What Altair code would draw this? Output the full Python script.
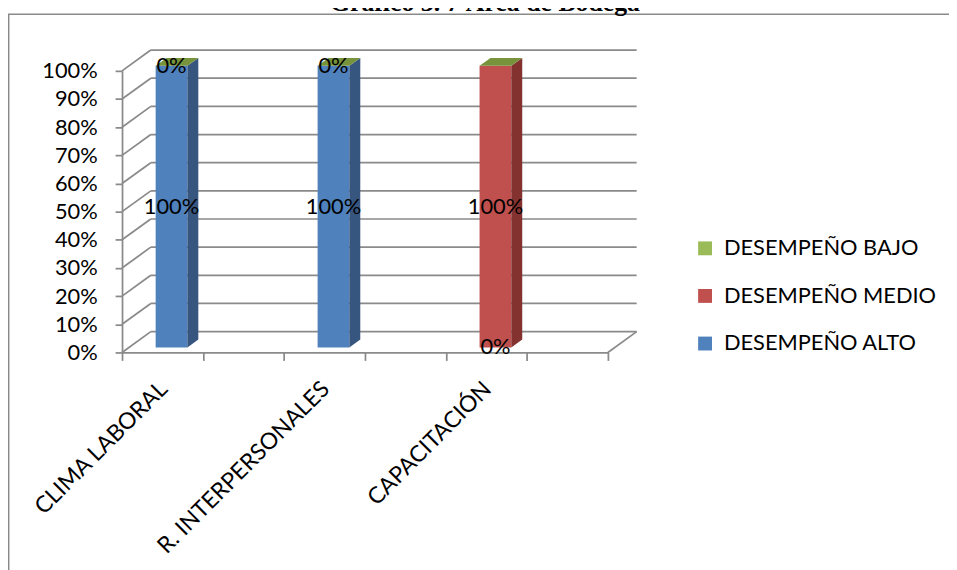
import altair as alt
import pandas as pd

# ---------------- data ----------------
categories = ["CLIMA LABORAL", "R. INTERPERSONALES", "CAPACITACIÓN"]
series = ["DESEMPEÑO ALTO", "DESEMPEÑO MEDIO", "DESEMPEÑO BAJO"]   # stacking order (bottom -> top)
alto = [100, 100, 0]
medio = [0, 0, 100]
bajo = [0, 0, 0]
y_ticks = [0, 10, 20, 30, 40, 50, 60, 70, 80, 90, 100]
labelled_series = ["DESEMPEÑO ALTO", "DESEMPEÑO MEDIO"]
legend_order = ["DESEMPEÑO BAJO", "DESEMPEÑO MEDIO", "DESEMPEÑO ALTO"]
title_text = "Gráfico 3. 7 Área de Bodega"

# ---------------- style ----------------
front_col = {"DESEMPEÑO ALTO": "#4f81bd", "DESEMPEÑO MEDIO": "#c0504d", "DESEMPEÑO BAJO": "#9bbb59"}
side_col = {"DESEMPEÑO ALTO": "#36557f", "DESEMPEÑO MEDIO": "#84322f", "DESEMPEÑO BAJO": "#6b8636"}
top_col = {"DESEMPEÑO ALTO": "#5b86c0", "DESEMPEÑO MEDIO": "#c65c59", "DESEMPEÑO BAJO": "#77933c"}
GRID = "#8a8a8a"
FONT = "Lato"
FS = 22

W, H = 490, 284                     # front wall: 3 categories x 0..100 %
PXX, PXY = W / 3.0, H / 100.0
DX = 29 / PXX                       # depth of the 3-D box in data units
DY = 21 / PXY
D0, D1 = 0.24, 0.62                 # depth of bar front / back faces (fraction)
BAR_L, BAR_W = 0.165, 0.196         # bar left position and width inside a category

xs = alt.Scale(domain=[0, 3], nice=False, zero=False)
ys = alt.Scale(domain=[0, 100], nice=False, zero=False)

label_expr = " : ".join(
    f"datum.value == {i + 0.5} ? '{c}'" for i, c in enumerate(categories)
) + " : ''"
x_axis = alt.Axis(values=[0, 0.5, 1, 1.5, 2, 2.5, 3], labelExpr=label_expr, title=None,
                  grid=False, tickSize=8, tickColor=GRID, tickWidth=1.75,
                  domainColor=GRID, domainWidth=1.75, labelAngle=315, labelAlign="right",
                  labelBaseline="middle", labelOffset=-40, labelPadding=25,
                  labelFont=FONT, labelFontSize=23, labelColor="black", labelOverlap=False,
                  labelLimit=1000, labelBound=False, labelFlush=False)
y_axis = alt.Axis(values=y_ticks, labelExpr="datum.value + '%'", title=None, grid=False,
                  tickSize=7, tickColor=GRID, tickWidth=1.75, domainColor=GRID, domainWidth=1.75,
                  labelPadding=18, labelFont=FONT, labelFontSize=FS, labelColor="black",
                  labelOverlap=False, labelLimit=1000)


def X(f):
    return alt.X(f, type="quantitative", scale=xs, axis=x_axis)


def Y(f):
    return alt.Y(f, type="quantitative", scale=ys, axis=y_axis)


# ---------------- derived tables ----------------
vals = {"DESEMPEÑO ALTO": alto, "DESEMPEÑO MEDIO": medio, "DESEMPEÑO BAJO": bajo}
seg_rows, side_rows, top_rows, lab_rows = [], [], [], []
for i, c in enumerate(categories):
    base = 0
    for s in series:
        v = vals[s][i]
        y0, y1 = base, base + v
        base = y1
        xl = i + BAR_L + D0 * DX
        xr = xl + BAR_W
        y0f, y1f = y0 + D0 * DY, y1 + D0 * DY
        if v > 0:
            seg_rows.append(dict(cat=c, serie=s, xl=xl, xr=xr, y0=y0f, y1=y1f))
            sid = f"{i}-{s}"
            side_rows.append(dict(id=sid, x=xr, lo=y0f, hi=y1f, fill=side_col[s]))
            side_rows.append(dict(id=sid, x=xr + (D1 - D0) * DX, lo=y0f + (D1 - D0) * DY,
                                  hi=y1f + (D1 - D0) * DY, fill=side_col[s]))
        if s in labelled_series:
            lab_rows.append(dict(x=(xl + xr) / 2, y=(y0f + y1f) / 2, text=f"{v}%"))
    # top face of the stack belongs to the last series
    s = series[-1]
    xl = i + BAR_L + D0 * DX
    xr = xl + BAR_W
    yt = base + D0 * DY
    top_rows.append(dict(id=i, y=yt, xa=xl, xb=xr, fill=top_col[s]))
    top_rows.append(dict(id=i, y=yt + (D1 - D0) * DY, xa=xl + (D1 - D0) * DX,
                         xb=xr + (D1 - D0) * DX, fill=top_col[s]))

seg_df = pd.DataFrame(seg_rows)
side_df = pd.DataFrame(side_rows)
top_df = pd.DataFrame(top_rows)
lab_df = pd.DataFrame(lab_rows)
grid_df = pd.DataFrame({"v": y_ticks})
grid_df["gy"] = grid_df["v"] + DY
grid_df["x0"] = 0.0
grid_df["xb"] = DX
grid_df["xe"] = 3 + DX
floor_df = pd.DataFrame({"x": [3.0], "x2": [3 + DX], "y": [0.0], "y2": [DY]})

# ---------------- layers ----------------
border = alt.Chart(pd.DataFrame({"a": [0]})).mark_rect(
    fill=None, stroke="#8a8a8a", strokeWidth=1.5
).encode(x=alt.value(-114.3), x2=alt.value(900), y=alt.value(-57), y2=alt.value(700))

title = alt.Chart(pd.DataFrame({"t": [title_text]})).mark_text(
    font="Liberation Serif", fontSize=26, fontWeight="bold", align="center",
    baseline="alphabetic", color="black"
).encode(x=alt.value(366), y=alt.value(-60.5), text="t:N")

back_lines = alt.Chart(grid_df).mark_rule(color=GRID, strokeWidth=1.75).encode(
    x=X("xb"), x2="xe", y=Y("gy"))
diag_lines = alt.Chart(grid_df).mark_rule(color=GRID, strokeWidth=1.75).encode(
    x=X("x0"), x2="xb", y=Y("v"), y2="gy")
floor_edge = alt.Chart(floor_df).mark_rule(color=GRID, strokeWidth=1.75).encode(
    x=X("x"), x2="x2", y=Y("y"), y2="y2")

front = alt.Chart(seg_df).mark_rect().encode(
    x=X("xl"), x2="xr", y=Y("y0"), y2="y1",
    color=alt.Color("serie:N",
                    scale=alt.Scale(domain=legend_order, range=[front_col[s] for s in legend_order]),
                    legend=alt.Legend(title=None, orient="none", legendX=577, legendY=168,
                                      direction="vertical", symbolType="square", symbolSize=196,
                                      symbolStrokeWidth=0, symbolOpacity=1, labelFont=FONT,
                                      labelFontSize=FS, labelColor="black", rowPadding=26,
                                      labelOffset=8, padding=0, labelLimit=1000)))

sides = alt.Chart(side_df).mark_area(orient="vertical", interpolate="linear").encode(
    x=X("x"), y=Y("lo"), y2="hi", detail="id:N", fill=alt.Fill("fill:N", scale=None))

tops = alt.Chart(top_df).mark_area(orient="horizontal", interpolate="linear").encode(
    y=Y("y"), x=X("xa"), x2="xb", detail="id:N", fill=alt.Fill("fill:N", scale=None))

labels = alt.Chart(lab_df).mark_text(font=FONT, fontSize=FS, color="black",
                                     align="center", baseline="middle").encode(
    x=X("x"), y=Y("y"), text="text:N")

chart = alt.layer(border, title, back_lines, diag_lines, floor_edge, front, sides, tops, labels).properties(
    width=W, height=H,
    autosize=alt.AutoSizeParams(type="none"),
    padding={"left": 115, "top": 61, "right": 949 - 115 - W, "bottom": 562 - 61 - H},
).configure_view(stroke=None)

chart.save("out.html", embed_options={"renderer": "svg", "actions": False})
